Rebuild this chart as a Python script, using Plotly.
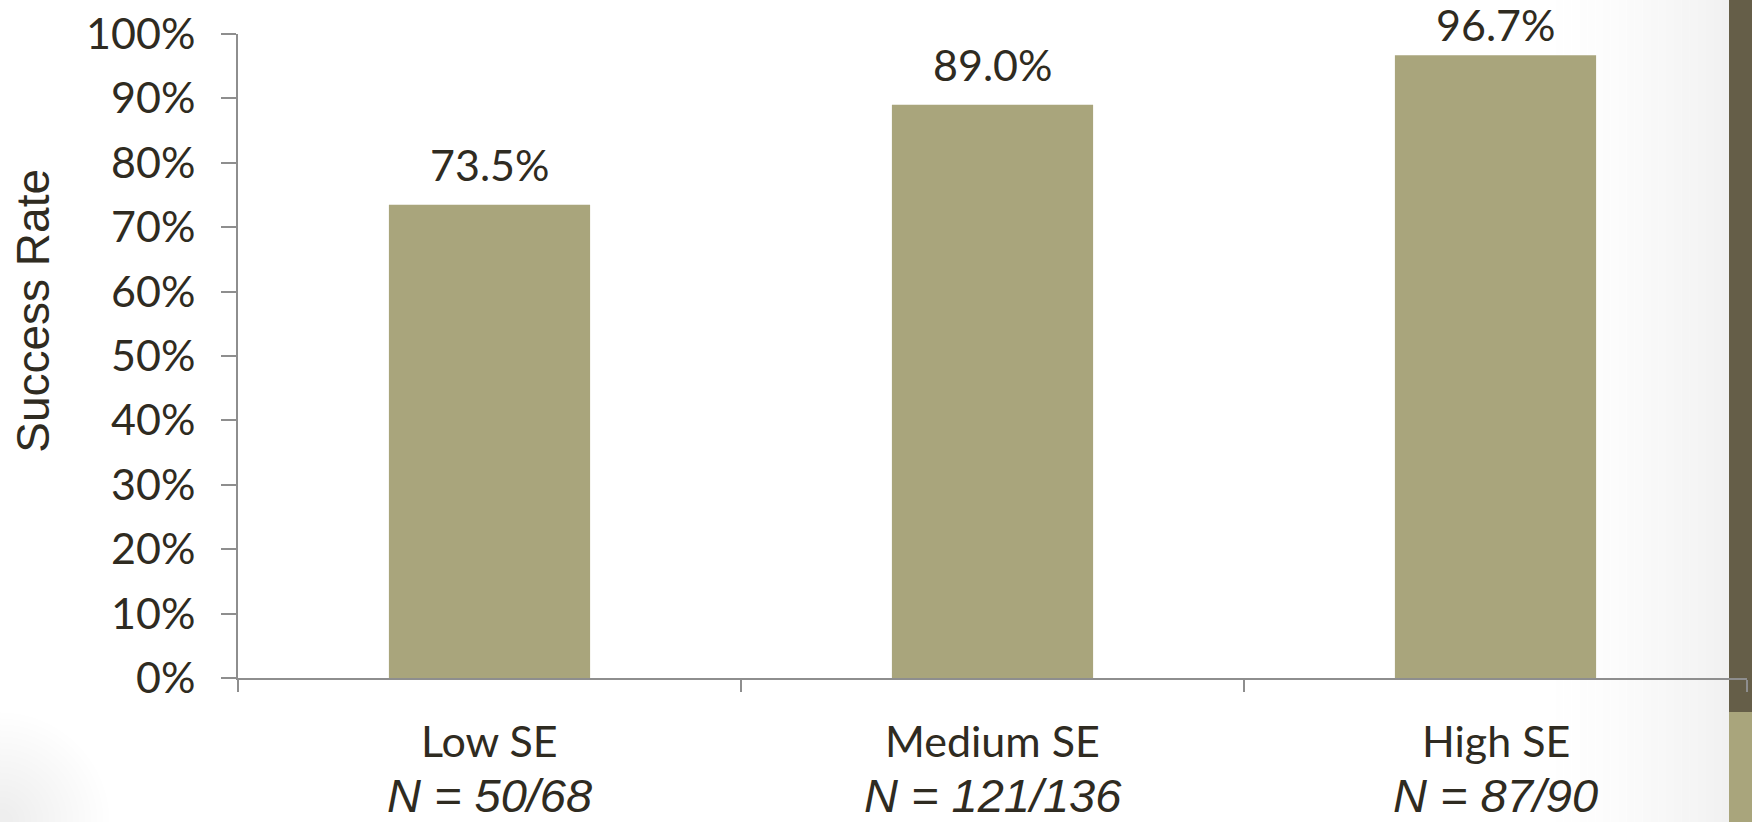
import plotly.graph_objects as go

# Success rate by self-efficacy group
categories = ["Low SE", "Medium SE", "High SE"]
success_rate = [0.735, 0.890, 0.967]
successes = [50, 121, 87]
totals = [68, 136, 90]
y_ticks = [0, 0.1, 0.2, 0.3, 0.4, 0.5, 0.6, 0.7, 0.8, 0.9, 1.0]
y_tick_labels = ["0%", "10%", "20%", "30%", "40%", "50%", "60%", "70%", "80%", "90%", "100%"]

W, H = 1752, 822
L, R, T, B = 238, 5, 33.5, 144
plot_w = W - L - R
plot_h = H - T - B

BAR = "#A9A57C"
DARK = "#655E48"
TEXT = "#2F2B21"
AXIS = "#8E8E8E"
CAL = "Lato"


def px_x(p):
    return (p - L) / plot_w


def px_y(p):
    return (H - B - p) / plot_h


fig = go.Figure(
    go.Bar(
        x=categories,
        y=success_rate,
        marker=dict(color=BAR, line=dict(width=0)),
        width=0.4,
        hoverinfo="skip",
    )
)

annotations = []
# value labels above bars, kept inside the canvas near the top edge
lift = 40 / plot_h
top_limit = 1 + (T - 23.5) / plot_h
for c, v in zip(categories, success_rate):
    annotations.append(dict(
        x=c, xref="x", y=min(v + lift, top_limit), yref="paper",
        text=f"{v * 100:.1f}%", showarrow=False, yanchor="middle",
        font=dict(family=CAL, size=43, color=TEXT),
    ))

# category names and counts under the axis
for c, s, n in zip(categories, successes, totals):
    annotations.append(dict(
        x=c, xref="x", y=0, yref="paper", yshift=-62, yanchor="middle",
        text=c, showarrow=False,
        font=dict(family=CAL, size=43, color=TEXT),
    ))
    annotations.append(dict(
        x=c, xref="x", y=0, yref="paper", yshift=-117, yanchor="middle",
        text=f"<i>N = {s}/{n}</i>", showarrow=False, borderpad=0,
        font=dict(family="Liberation Sans", size=47, color=TEXT),
    ))

# axis title
annotations.append(dict(
    x=px_x(33.5), xref="paper", y=px_y(311), yref="paper",
    text="Success Rate", textangle=-90, showarrow=False,
    xanchor="center", yanchor="middle",
    font=dict(family="Liberation Sans", size=46, color=TEXT),
))

shapes = []
# soft grey shading towards the right-hand band
n_strips = 24
x_start, x_end = 1540, 1729
step = (x_end - x_start) / n_strips
for i in range(n_strips):
    a = 0.055 * ((i + 1) / n_strips) ** 1.6
    shapes.append(dict(
        type="rect", xref="paper", yref="paper", layer="below",
        x0=px_x(x_start + i * step), x1=px_x(x_start + (i + 1) * step),
        y0=px_y(-2), y1=px_y(H + 2),
        fillcolor=f"rgba(0,0,0,{a:.4f})", line=dict(width=0),
    ))
# faint corner shading at the lower left
for r in range(110, 10, -6):
    shapes.append(dict(
        type="circle", xref="paper", yref="paper", layer="below",
        x0=px_x(-r), x1=px_x(r), y0=px_y(H + r), y1=px_y(H - r),
        fillcolor="rgba(0,0,0,0.0035)", line=dict(width=0),
    ))
# side band
shapes += [
    dict(type="rect", xref="paper", yref="paper", layer="below",
         x0=px_x(1729), x1=px_x(W + 2), y0=px_y(-2), y1=px_y(712),
         fillcolor=DARK, line=dict(width=0)),
    dict(type="rect", xref="paper", yref="paper", layer="below",
         x0=px_x(1729), x1=px_x(W + 2), y0=px_y(712), y1=px_y(H + 2),
         fillcolor=BAR, line=dict(width=0)),
]

fig.update_layout(
    width=W, height=H,
    margin=dict(l=L, r=R, t=T, b=B, pad=0),
    paper_bgcolor="white", plot_bgcolor="rgba(0,0,0,0)",
    showlegend=False,
    bargap=0.6,
    annotations=annotations,
    shapes=shapes,
    xaxis=dict(
        showticklabels=False, showgrid=False, zeroline=False,
        showline=True, linecolor=AXIS, linewidth=2,
        ticks="outside", tickson="boundaries", ticklen=12,
        tickcolor=AXIS, tickwidth=2, range=[-0.5, 2.5],
    ),
    yaxis=dict(
        range=[0, 1], tickvals=y_ticks, ticktext=y_tick_labels,
        showgrid=False, zeroline=False,
        showline=True, linecolor=AXIS, linewidth=2,
        ticks="outside", ticklen=15, tickcolor=AXIS, tickwidth=2,
        ticklabelstandoff=17,
        tickfont=dict(family=CAL, size=43, color=TEXT),
    ),
)

fig.write_html("out.html")
